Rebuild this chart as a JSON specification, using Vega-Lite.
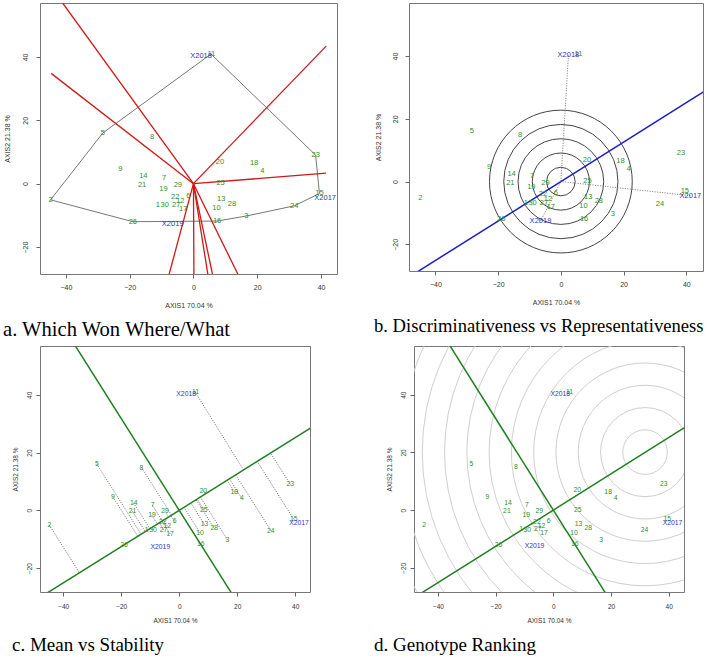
{
  "$schema": "https://vega.github.io/schema/vega-lite/v6.json",
  "padding": {"left": 2, "top": 2, "right": 0, "bottom": 0},
  "background": "white",
  "config": {
    "view": {"stroke": "#777", "strokeWidth": 1},
    "axis": {"grid": false, "domain": false, "tickColor": "#666", "labelColor": "#333", "titleColor": "#333", "labelFont": "Liberation Sans", "titleFont": "Liberation Sans", "titleFontWeight": "normal", "labelFontSize": 7, "titleFontSize": 7, "tickSize": 4},
    "axisY": {"labelAngle": -90, "labelAlign": "center", "labelBaseline": "bottom"},
    "title": {"orient": "bottom", "anchor": "start", "frame": "bounds", "font": "Liberation Serif", "fontSize": 19, "fontWeight": "normal", "color": "black", "offset": 12, "baseline": "top"},
    "text": {"font": "Liberation Sans"}
  },
  "datasets": {
    "geno": [
      {"g": "1", "x": -11.2, "y": -6.7}, {"g": "2", "x": -44.8, "y": -5.1}, {"g": "3", "x": 16.6, "y": -10.2},
      {"g": "4", "x": 21.6, "y": 4.1}, {"g": "5", "x": -28.4, "y": 16.0}, {"g": "6", "x": -1.6, "y": -3.8},
      {"g": "7", "x": -9.2, "y": 1.7}, {"g": "8", "x": -13.0, "y": 14.8}, {"g": "9", "x": -22.9, "y": 4.7},
      {"g": "10", "x": 7.2, "y": -7.8}, {"g": "11", "x": 5.6, "y": 40.8}, {"g": "12", "x": -4.1, "y": -5.5},
      {"g": "13", "x": 8.7, "y": -4.9}, {"g": "14", "x": -15.7, "y": 2.5}, {"g": "15", "x": 39.5, "y": -3.1},
      {"g": "16", "x": 7.4, "y": -11.8}, {"g": "17", "x": -3.2, "y": -8.1}, {"g": "18", "x": 19.0, "y": 6.4},
      {"g": "19", "x": -9.4, "y": -1.8}, {"g": "20", "x": 8.3, "y": 6.8}, {"g": "21", "x": -16.1, "y": -0.4},
      {"g": "22", "x": -5.7, "y": -4.1}, {"g": "23", "x": 38.3, "y": 9.0}, {"g": "24", "x": 31.6, "y": -7.0},
      {"g": "25", "x": 8.5, "y": 0.2}, {"g": "26", "x": -19.0, "y": -12.0}, {"g": "27", "x": -5.4, "y": -6.7},
      {"g": "28", "x": 12.1, "y": -6.3}, {"g": "29", "x": -4.9, "y": -0.4}, {"g": "30", "x": -9.0, "y": -6.8}
    ],
    "env": [
      {"e": "X2017", "x": 41.3, "y": -4.5}, {"e": "X2018", "x": 2.4, "y": 40.2}, {"e": "X2019", "x": -6.5, "y": -12.6}
    ],
    "hull": [
      {"o": 1, "x": 5.5, "y": 40.9}, {"o": 2, "x": 38.3, "y": 9.0}, {"o": 3, "x": 39.5, "y": -3.1},
      {"o": 4, "x": 31.6, "y": -7.0}, {"o": 5, "x": 16.6, "y": -10.2}, {"o": 6, "x": 7.4, "y": -11.8},
      {"o": 7, "x": -19.0, "y": -12.0}, {"o": 8, "x": -44.8, "y": -5.1}, {"o": 9, "x": -28.4, "y": 16.0},
      {"o": 10, "x": 5.5, "y": 40.9}
    ],
    "rays": [
      {"x": -41.0, "y": 57.0}, {"x": -44.6, "y": 34.8}, {"x": 41.6, "y": 43.4}, {"x": 41.6, "y": 3.3},
      {"x": 13.9, "y": -28.5}, {"x": 5.95, "y": -28.5}, {"x": 4.5, "y": -28.5}, {"x": 0.15, "y": -28.5}, {"x": -7.6, "y": -28.5}
    ],
    "proj": [
      {"x": -11.2, "y": -6.7, "x2": -11.05, "y2": -6.95}, {"x": -44.8, "y": -5.1, "x2": -34.4, "y2": -21.64},
      {"x": 16.6, "y": -10.2, "x2": 7.3, "y2": 4.59}, {"x": 21.6, "y": 4.1, "x2": 17.33, "y2": 10.9},
      {"x": -28.4, "y": 16.0, "x2": -13.14, "y2": -8.26}, {"x": -1.6, "y": -3.8, "x2": -2.86, "y2": -1.8},
      {"x": -9.2, "y": 1.7, "x2": -5.83, "y2": -3.66}, {"x": -13.0, "y": 14.8, "x2": -2.65, "y2": -1.66},
      {"x": -22.9, "y": 4.7, "x2": -14.29, "y2": -8.99}, {"x": 7.2, "y": -7.8, "x2": 1.64, "y2": 1.03},
      {"x": 5.6, "y": 40.8, "x2": 22.2, "y2": 13.96}, {"x": -4.1, "y": -5.5, "x2": -5.42, "y2": -3.41},
      {"x": 8.7, "y": -4.9, "x2": 4.03, "y2": 2.53}, {"x": -15.7, "y": 2.5, "x2": -10.12, "y2": -6.37},
      {"x": 39.5, "y": -3.1, "x2": 26.91, "y2": 16.92}, {"x": 7.4, "y": -11.8, "x2": -0.02, "y2": -0.01},
      {"x": -3.2, "y": -8.1, "x2": -5.94, "y2": -3.74}, {"x": 19.0, "y": 6.4, "x2": 16.5, "y2": 10.38},
      {"x": -9.4, "y": -1.8, "x2": -7.55, "y2": -4.75}, {"x": 8.3, "y": 6.8, "x2": 9.01, "y2": 5.67},
      {"x": -16.1, "y": -0.4, "x2": -11.72, "y2": -7.37}, {"x": -5.7, "y": -4.1, "x2": -5.93, "y2": -3.73},
      {"x": 38.3, "y": 9.0, "x2": 31.5, "y2": 19.81}, {"x": 31.6, "y": -7.0, "x2": 19.49, "y2": 12.26},
      {"x": 8.5, "y": 0.2, "x2": 6.18, "y2": 3.89}, {"x": -19.0, "y": -12.0, "x2": -19.02, "y2": -11.96},
      {"x": -5.4, "y": -6.7, "x2": -6.89, "y2": -4.33}, {"x": 12.1, "y": -6.3, "x2": 5.83, "y2": 3.67},
      {"x": -4.9, "y": -0.4, "x2": -3.69, "y2": -2.32}, {"x": -9.0, "y": -6.8, "x2": -9.51, "y2": -5.98}
    ],
    "aea": [{"x": -48.0, "y": -30.19}, {"x": 46.0, "y": 28.93}],
    "ato": [{"x": -37.0, "y": 58.83}, {"x": 19.0, "y": -30.21}],
    "circB": [{"r": 4.55}, {"r": 9.1}, {"r": 13.65}, {"r": 18.2}, {"r": 22.75}],
    "circD": [{"r": 7.1}, {"r": 14.2}, {"r": 21.3}, {"r": 28.4}, {"r": 35.5}, {"r": 42.6}, {"r": 49.7}, {"r": 56.8}, {"r": 63.9}, {"r": 71.0}, {"r": 78.1}, {"r": 85.2}, {"r": 92.3}]
  },
  "columns": 2,
  "align": "none",
  "spacing": {"row": 3, "column": 35},
  "concat": [
    {
      "width": 297, "height": 271,
      "title": {"text": "a. Which Won Where/What", "fontSize": 20.6},
      "layer": [
        {"mark": {"type": "rule", "color": "#999", "strokeDash": [2, 2], "strokeWidth": 1},
         "encoding": {"x": {"datum": 0, "type": "quantitative", "scale": {"domain": [-48.1, 45], "nice": false, "zero": false}, "axis": {"title": "AXIS1 70.04 %", "values": [-40, -20, 0, 20, 40], "labelPadding": 5, "titlePadding": 11}}}},
        {"mark": {"type": "rule", "color": "#999", "strokeDash": [2, 2], "strokeWidth": 1},
         "encoding": {"y": {"datum": 0, "type": "quantitative", "scale": {"domain": [-28.5, 57], "nice": false, "zero": false}, "axis": {"title": "AXIS2 21.38 %", "values": [-20, 0, 20, 40], "labelPadding": 8, "titlePadding": 11}}}},
        {"data": {"name": "hull"}, "mark": {"type": "line", "color": "#777", "strokeWidth": 1},
         "encoding": {"x": {"field": "x", "type": "quantitative", "scale": {"domain": [-48.1, 45], "nice": false, "zero": false}, "axis": {"title": "AXIS1 70.04 %", "values": [-40, -20, 0, 20, 40], "labelPadding": 5, "titlePadding": 11}},
                      "y": {"field": "y", "type": "quantitative", "scale": {"domain": [-28.5, 57], "nice": false, "zero": false}, "axis": {"title": "AXIS2 21.38 %", "values": [-20, 0, 20, 40], "labelPadding": 8, "titlePadding": 11}},
                      "order": {"field": "o"}}},
        {"data": {"name": "rays"}, "mark": {"type": "rule", "color": "#d01818", "strokeWidth": 1.3, "clip": true},
         "encoding": {"x": {"field": "x", "type": "quantitative", "scale": {"domain": [-48.1, 45], "nice": false, "zero": false}, "axis": {"title": "AXIS1 70.04 %", "values": [-40, -20, 0, 20, 40], "labelPadding": 5, "titlePadding": 11}},
                      "y": {"field": "y", "type": "quantitative", "scale": {"domain": [-28.5, 57], "nice": false, "zero": false}, "axis": {"title": "AXIS2 21.38 %", "values": [-20, 0, 20, 40], "labelPadding": 8, "titlePadding": 11}},
                      "x2": {"datum": 0}, "y2": {"datum": 0}}},
        {"data": {"name": "geno"}, "mark": {"type": "text", "color": "#2e8f2e", "fontSize": 7.5, "align": "center", "baseline": "middle"},
         "encoding": {"x": {"field": "x", "type": "quantitative", "scale": {"domain": [-48.1, 45], "nice": false, "zero": false}, "axis": {"title": "AXIS1 70.04 %", "values": [-40, -20, 0, 20, 40], "labelPadding": 5, "titlePadding": 11}},
                      "y": {"field": "y", "type": "quantitative", "scale": {"domain": [-28.5, 57], "nice": false, "zero": false}, "axis": {"title": "AXIS2 21.38 %", "values": [-20, 0, 20, 40], "labelPadding": 8, "titlePadding": 11}},
                      "text": {"field": "g"}}},
        {"data": {"name": "env"}, "mark": {"type": "text", "color": "#3535c0", "fontSize": 7.5, "align": "center", "baseline": "middle"},
         "encoding": {"x": {"field": "x", "type": "quantitative", "scale": {"domain": [-48.1, 45], "nice": false, "zero": false}, "axis": {"title": "AXIS1 70.04 %", "values": [-40, -20, 0, 20, 40], "labelPadding": 5, "titlePadding": 11}},
                      "y": {"field": "y", "type": "quantitative", "scale": {"domain": [-28.5, 57], "nice": false, "zero": false}, "axis": {"title": "AXIS2 21.38 %", "values": [-20, 0, 20, 40], "labelPadding": 8, "titlePadding": 11}},
                      "text": {"field": "e"}}}
      ]
    },
    {
      "width": 294, "height": 268,
      "title": {"text": "b. Discriminativeness vs Representativeness", "fontSize": 18.6},
      "layer": [
        {"mark": {"type": "text", "text": " ", "fontSize": 2, "baseline": "bottom", "dy": -2},
         "encoding": {"x": {"datum": 0, "type": "quantitative", "scale": {"domain": [-48.4, 45.3], "nice": false, "zero": false}, "axis": {"title": "AXIS1 70.04 %", "values": [-40, -20, 0, 20, 40], "labelPadding": 5, "titlePadding": 11}},
                      "y": {"datum": 56.9, "type": "quantitative", "scale": {"domain": [-28.5, 56.9], "nice": false, "zero": false}, "axis": {"title": "AXIS2 21.38 %", "values": [-20, 0, 20, 40], "labelPadding": 7, "titlePadding": 10}}}},
        {"mark": {"type": "rule", "color": "#888", "strokeDash": [2, 2], "strokeWidth": 1},
         "encoding": {"x": {"datum": 0, "type": "quantitative", "scale": {"domain": [-48.4, 45.3], "nice": false, "zero": false}, "axis": {"title": "AXIS1 70.04 %", "values": [-40, -20, 0, 20, 40], "labelPadding": 5, "titlePadding": 11}}}},
        {"mark": {"type": "rule", "color": "#888", "strokeDash": [2, 2], "strokeWidth": 1},
         "encoding": {"y": {"datum": 0, "type": "quantitative", "scale": {"domain": [-28.5, 56.9], "nice": false, "zero": false}, "axis": {"title": "AXIS2 21.38 %", "values": [-20, 0, 20, 40], "labelPadding": 7, "titlePadding": 10}}}},
        {"data": {"name": "circB"}, "mark": {"type": "point", "shape": "circle", "filled": false, "color": "#444", "strokeWidth": 1, "opacity": 1, "clip": true},
         "encoding": {"x": {"datum": 0, "type": "quantitative", "scale": {"domain": [-48.4, 45.3], "nice": false, "zero": false}, "axis": {"title": "AXIS1 70.04 %", "values": [-40, -20, 0, 20, 40], "labelPadding": 5, "titlePadding": 11}},
                      "y": {"datum": 0, "type": "quantitative", "scale": {"domain": [-28.5, 56.9], "nice": false, "zero": false}, "axis": {"title": "AXIS2 21.38 %", "values": [-20, 0, 20, 40], "labelPadding": 7, "titlePadding": 10}},
                      "size": {"field": "r", "type": "quantitative", "scale": {"type": "pow", "exponent": 2, "domain": [0, 100], "range": [0, 393882]}, "legend": null}}},
        {"data": {"name": "env"}, "mark": {"type": "rule", "color": "#777", "strokeDash": [1, 1.5], "strokeWidth": 1},
         "encoding": {"x": {"field": "x", "type": "quantitative", "scale": {"domain": [-48.4, 45.3], "nice": false, "zero": false}, "axis": {"title": "AXIS1 70.04 %", "values": [-40, -20, 0, 20, 40], "labelPadding": 5, "titlePadding": 11}},
                      "y": {"field": "y", "type": "quantitative", "scale": {"domain": [-28.5, 56.9], "nice": false, "zero": false}, "axis": {"title": "AXIS2 21.38 %", "values": [-20, 0, 20, 40], "labelPadding": 7, "titlePadding": 10}},
                      "x2": {"datum": 0}, "y2": {"datum": 0}}},
        {"data": {"name": "aea"}, "mark": {"type": "rule", "color": "#1c1cc8", "strokeWidth": 1.5, "clip": true},
         "encoding": {"x": {"field": "x", "type": "quantitative", "scale": {"domain": [-48.4, 45.3], "nice": false, "zero": false}, "axis": {"title": "AXIS1 70.04 %", "values": [-40, -20, 0, 20, 40], "labelPadding": 5, "titlePadding": 11}},
                      "y": {"field": "y", "type": "quantitative", "scale": {"domain": [-28.5, 56.9], "nice": false, "zero": false}, "axis": {"title": "AXIS2 21.38 %", "values": [-20, 0, 20, 40], "labelPadding": 7, "titlePadding": 10}},
                      "x2": {"datum": 0}, "y2": {"datum": 0}}},
        {"mark": {"type": "point", "shape": "arrow", "angle": 58, "size": 25, "filled": true, "color": "#2e8f2e", "opacity": 1},
         "encoding": {"x": {"datum": 11.8, "type": "quantitative", "scale": {"domain": [-48.4, 45.3], "nice": false, "zero": false}, "axis": {"title": "AXIS1 70.04 %", "values": [-40, -20, 0, 20, 40], "labelPadding": 5, "titlePadding": 11}},
                      "y": {"datum": 7.4, "type": "quantitative", "scale": {"domain": [-28.5, 56.9], "nice": false, "zero": false}, "axis": {"title": "AXIS2 21.38 %", "values": [-20, 0, 20, 40], "labelPadding": 7, "titlePadding": 10}}}},
        {"data": {"name": "geno"}, "mark": {"type": "text", "color": "#2e8f2e", "fontSize": 7.5, "align": "center", "baseline": "middle"},
         "encoding": {"x": {"field": "x", "type": "quantitative", "scale": {"domain": [-48.4, 45.3], "nice": false, "zero": false}, "axis": {"title": "AXIS1 70.04 %", "values": [-40, -20, 0, 20, 40], "labelPadding": 5, "titlePadding": 11}},
                      "y": {"field": "y", "type": "quantitative", "scale": {"domain": [-28.5, 56.9], "nice": false, "zero": false}, "axis": {"title": "AXIS2 21.38 %", "values": [-20, 0, 20, 40], "labelPadding": 7, "titlePadding": 10}},
                      "text": {"field": "g"}}},
        {"data": {"name": "env"}, "mark": {"type": "text", "color": "#3535c0", "fontSize": 7.5, "align": "center", "baseline": "middle"},
         "encoding": {"x": {"field": "x", "type": "quantitative", "scale": {"domain": [-48.4, 45.3], "nice": false, "zero": false}, "axis": {"title": "AXIS1 70.04 %", "values": [-40, -20, 0, 20, 40], "labelPadding": 5, "titlePadding": 11}},
                      "y": {"field": "y", "type": "quantitative", "scale": {"domain": [-28.5, 56.9], "nice": false, "zero": false}, "axis": {"title": "AXIS2 21.38 %", "values": [-20, 0, 20, 40], "labelPadding": 7, "titlePadding": 10}},
                      "text": {"field": "e"}}}
      ]
    },
    {
      "width": 270, "height": 246,
      "title": {"text": "c. Mean vs Stability"},
      "layer": [
        {"mark": {"type": "rule", "color": "#999", "strokeDash": [2, 2], "strokeWidth": 1},
         "encoding": {"x": {"datum": 0, "type": "quantitative", "scale": {"domain": [-48.0, 45.1], "nice": false, "zero": false}, "axis": {"title": "AXIS1 70.04 %", "values": [-40, -20, 0, 20, 40], "labelFontSize": 6.5, "titleFontSize": 6.5, "labelPadding": 7, "titlePadding": 8}}}},
        {"mark": {"type": "rule", "color": "#999", "strokeDash": [2, 2], "strokeWidth": 1},
         "encoding": {"y": {"datum": 0, "type": "quantitative", "scale": {"domain": [-28.3, 56.9], "nice": false, "zero": false}, "axis": {"title": "AXIS2 21.38 %", "values": [-20, 0, 20, 40], "labelFontSize": 6.5, "titleFontSize": 6.5, "labelPadding": 4, "titlePadding": 8}}}},
        {"data": {"name": "proj"}, "mark": {"type": "rule", "color": "#666", "strokeDash": [1, 1.5], "strokeWidth": 1},
         "encoding": {"x": {"field": "x", "type": "quantitative", "scale": {"domain": [-48.0, 45.1], "nice": false, "zero": false}, "axis": {"title": "AXIS1 70.04 %", "values": [-40, -20, 0, 20, 40], "labelFontSize": 6.5, "titleFontSize": 6.5, "labelPadding": 7, "titlePadding": 8}},
                      "y": {"field": "y", "type": "quantitative", "scale": {"domain": [-28.3, 56.9], "nice": false, "zero": false}, "axis": {"title": "AXIS2 21.38 %", "values": [-20, 0, 20, 40], "labelFontSize": 6.5, "titleFontSize": 6.5, "labelPadding": 4, "titlePadding": 8}},
                      "x2": {"field": "x2"}, "y2": {"field": "y2"}}},
        {"data": {"name": "aea"}, "mark": {"type": "rule", "color": "#1f7f1f", "strokeWidth": 1.5, "clip": true},
         "encoding": {"x": {"field": "x", "type": "quantitative", "scale": {"domain": [-48.0, 45.1], "nice": false, "zero": false}, "axis": {"title": "AXIS1 70.04 %", "values": [-40, -20, 0, 20, 40], "labelFontSize": 6.5, "titleFontSize": 6.5, "labelPadding": 7, "titlePadding": 8}},
                      "y": {"field": "y", "type": "quantitative", "scale": {"domain": [-28.3, 56.9], "nice": false, "zero": false}, "axis": {"title": "AXIS2 21.38 %", "values": [-20, 0, 20, 40], "labelFontSize": 6.5, "titleFontSize": 6.5, "labelPadding": 4, "titlePadding": 8}},
                      "x2": {"datum": 0}, "y2": {"datum": 0}}},
        {"data": {"name": "ato"}, "mark": {"type": "rule", "color": "#1f7f1f", "strokeWidth": 1.5, "clip": true},
         "encoding": {"x": {"field": "x", "type": "quantitative", "scale": {"domain": [-48.0, 45.1], "nice": false, "zero": false}, "axis": {"title": "AXIS1 70.04 %", "values": [-40, -20, 0, 20, 40], "labelFontSize": 6.5, "titleFontSize": 6.5, "labelPadding": 7, "titlePadding": 8}},
                      "y": {"field": "y", "type": "quantitative", "scale": {"domain": [-28.3, 56.9], "nice": false, "zero": false}, "axis": {"title": "AXIS2 21.38 %", "values": [-20, 0, 20, 40], "labelFontSize": 6.5, "titleFontSize": 6.5, "labelPadding": 4, "titlePadding": 8}},
                      "x2": {"datum": 0}, "y2": {"datum": 0}}},
        {"mark": {"type": "point", "shape": "arrow", "angle": 58, "size": 22, "filled": true, "color": "#2e8f2e", "opacity": 1},
         "encoding": {"x": {"datum": 12.0, "type": "quantitative", "scale": {"domain": [-48.0, 45.1], "nice": false, "zero": false}, "axis": {"title": "AXIS1 70.04 %", "values": [-40, -20, 0, 20, 40], "labelFontSize": 6.5, "titleFontSize": 6.5, "labelPadding": 7, "titlePadding": 8}},
                      "y": {"datum": 7.5, "type": "quantitative", "scale": {"domain": [-28.3, 56.9], "nice": false, "zero": false}, "axis": {"title": "AXIS2 21.38 %", "values": [-20, 0, 20, 40], "labelFontSize": 6.5, "titleFontSize": 6.5, "labelPadding": 4, "titlePadding": 8}}}},
        {"data": {"name": "geno"}, "mark": {"type": "text", "color": "#2e8f2e", "fontSize": 6.8, "align": "center", "baseline": "middle"},
         "encoding": {"x": {"field": "x", "type": "quantitative", "scale": {"domain": [-48.0, 45.1], "nice": false, "zero": false}, "axis": {"title": "AXIS1 70.04 %", "values": [-40, -20, 0, 20, 40], "labelFontSize": 6.5, "titleFontSize": 6.5, "labelPadding": 7, "titlePadding": 8}},
                      "y": {"field": "y", "type": "quantitative", "scale": {"domain": [-28.3, 56.9], "nice": false, "zero": false}, "axis": {"title": "AXIS2 21.38 %", "values": [-20, 0, 20, 40], "labelFontSize": 6.5, "titleFontSize": 6.5, "labelPadding": 4, "titlePadding": 8}},
                      "text": {"field": "g"}}},
        {"data": {"name": "env"}, "mark": {"type": "text", "color": "#3535c0", "fontSize": 6.8, "align": "center", "baseline": "middle"},
         "encoding": {"x": {"field": "x", "type": "quantitative", "scale": {"domain": [-48.0, 45.1], "nice": false, "zero": false}, "axis": {"title": "AXIS1 70.04 %", "values": [-40, -20, 0, 20, 40], "labelFontSize": 6.5, "titleFontSize": 6.5, "labelPadding": 7, "titlePadding": 8}},
                      "y": {"field": "y", "type": "quantitative", "scale": {"domain": [-28.3, 56.9], "nice": false, "zero": false}, "axis": {"title": "AXIS2 21.38 %", "values": [-20, 0, 20, 40], "labelFontSize": 6.5, "titleFontSize": 6.5, "labelPadding": 4, "titlePadding": 8}},
                      "text": {"field": "e"}}}
      ]
    },
    {
      "width": 270, "height": 246,
      "title": {"text": "d. Genotype Ranking", "dx": -12},
      "layer": [
        {"mark": {"type": "text", "text": " ", "fontSize": 2, "align": "right", "baseline": "middle", "dx": -64.5},
         "encoding": {"x": {"datum": -48.3, "type": "quantitative", "scale": {"domain": [-48.3, 45.3], "nice": false, "zero": false}, "axis": {"title": "AXIS1 70.04 %", "values": [-40, -20, 0, 20, 40], "labelFontSize": 6.5, "titleFontSize": 6.5, "labelPadding": 7, "titlePadding": 8}},
                      "y": {"datum": 0, "type": "quantitative", "scale": {"domain": [-28.4, 56.9], "nice": false, "zero": false}, "axis": {"title": "AXIS2 21.38 %", "values": [-20, 0, 20, 40], "labelFontSize": 6.5, "titleFontSize": 6.5, "labelPadding": 4, "titlePadding": 8}}}},
        {"mark": {"type": "rule", "color": "#999", "strokeDash": [2, 2], "strokeWidth": 1},
         "encoding": {"x": {"datum": 0, "type": "quantitative", "scale": {"domain": [-48.3, 45.3], "nice": false, "zero": false}, "axis": {"title": "AXIS1 70.04 %", "values": [-40, -20, 0, 20, 40], "labelFontSize": 6.5, "titleFontSize": 6.5, "labelPadding": 7, "titlePadding": 8}}}},
        {"mark": {"type": "rule", "color": "#999", "strokeDash": [2, 2], "strokeWidth": 1},
         "encoding": {"y": {"datum": 0, "type": "quantitative", "scale": {"domain": [-28.4, 56.9], "nice": false, "zero": false}, "axis": {"title": "AXIS2 21.38 %", "values": [-20, 0, 20, 40], "labelFontSize": 6.5, "titleFontSize": 6.5, "labelPadding": 4, "titlePadding": 8}}}},
        {"data": {"name": "circD"}, "mark": {"type": "point", "shape": "circle", "filled": false, "color": "#cfcfcf", "strokeWidth": 1, "opacity": 1, "clip": true},
         "encoding": {"x": {"datum": 31.8, "type": "quantitative", "scale": {"domain": [-48.3, 45.3], "nice": false, "zero": false}, "axis": {"title": "AXIS1 70.04 %", "values": [-40, -20, 0, 20, 40], "labelFontSize": 6.5, "titleFontSize": 6.5, "labelPadding": 7, "titlePadding": 8}},
                      "y": {"datum": 20.1, "type": "quantitative", "scale": {"domain": [-28.4, 56.9], "nice": false, "zero": false}, "axis": {"title": "AXIS2 21.38 %", "values": [-20, 0, 20, 40], "labelFontSize": 6.5, "titleFontSize": 6.5, "labelPadding": 4, "titlePadding": 8}},
                      "size": {"field": "r", "type": "quantitative", "scale": {"type": "pow", "exponent": 2, "domain": [0, 100], "range": [0, 332698]}, "legend": null}}},
        {"data": {"name": "aea"}, "mark": {"type": "rule", "color": "#1f7f1f", "strokeWidth": 1.5, "clip": true},
         "encoding": {"x": {"field": "x", "type": "quantitative", "scale": {"domain": [-48.3, 45.3], "nice": false, "zero": false}, "axis": {"title": "AXIS1 70.04 %", "values": [-40, -20, 0, 20, 40], "labelFontSize": 6.5, "titleFontSize": 6.5, "labelPadding": 7, "titlePadding": 8}},
                      "y": {"field": "y", "type": "quantitative", "scale": {"domain": [-28.4, 56.9], "nice": false, "zero": false}, "axis": {"title": "AXIS2 21.38 %", "values": [-20, 0, 20, 40], "labelFontSize": 6.5, "titleFontSize": 6.5, "labelPadding": 4, "titlePadding": 8}},
                      "x2": {"datum": 0}, "y2": {"datum": 0}}},
        {"data": {"name": "ato"}, "mark": {"type": "rule", "color": "#1f7f1f", "strokeWidth": 1.5, "clip": true},
         "encoding": {"x": {"field": "x", "type": "quantitative", "scale": {"domain": [-48.3, 45.3], "nice": false, "zero": false}, "axis": {"title": "AXIS1 70.04 %", "values": [-40, -20, 0, 20, 40], "labelFontSize": 6.5, "titleFontSize": 6.5, "labelPadding": 7, "titlePadding": 8}},
                      "y": {"field": "y", "type": "quantitative", "scale": {"domain": [-28.4, 56.9], "nice": false, "zero": false}, "axis": {"title": "AXIS2 21.38 %", "values": [-20, 0, 20, 40], "labelFontSize": 6.5, "titleFontSize": 6.5, "labelPadding": 4, "titlePadding": 8}},
                      "x2": {"datum": 0}, "y2": {"datum": 0}}},
        {"mark": {"type": "point", "shape": "arrow", "angle": 58, "size": 22, "filled": true, "color": "#2e8f2e", "opacity": 1},
         "encoding": {"x": {"datum": 31.3, "type": "quantitative", "scale": {"domain": [-48.3, 45.3], "nice": false, "zero": false}, "axis": {"title": "AXIS1 70.04 %", "values": [-40, -20, 0, 20, 40], "labelFontSize": 6.5, "titleFontSize": 6.5, "labelPadding": 7, "titlePadding": 8}},
                      "y": {"datum": 19.7, "type": "quantitative", "scale": {"domain": [-28.4, 56.9], "nice": false, "zero": false}, "axis": {"title": "AXIS2 21.38 %", "values": [-20, 0, 20, 40], "labelFontSize": 6.5, "titleFontSize": 6.5, "labelPadding": 4, "titlePadding": 8}}}},
        {"data": {"name": "geno"}, "mark": {"type": "text", "color": "#2e8f2e", "fontSize": 6.8, "align": "center", "baseline": "middle"},
         "encoding": {"x": {"field": "x", "type": "quantitative", "scale": {"domain": [-48.3, 45.3], "nice": false, "zero": false}, "axis": {"title": "AXIS1 70.04 %", "values": [-40, -20, 0, 20, 40], "labelFontSize": 6.5, "titleFontSize": 6.5, "labelPadding": 7, "titlePadding": 8}},
                      "y": {"field": "y", "type": "quantitative", "scale": {"domain": [-28.4, 56.9], "nice": false, "zero": false}, "axis": {"title": "AXIS2 21.38 %", "values": [-20, 0, 20, 40], "labelFontSize": 6.5, "titleFontSize": 6.5, "labelPadding": 4, "titlePadding": 8}},
                      "text": {"field": "g"}}},
        {"data": {"name": "env"}, "mark": {"type": "text", "color": "#3535c0", "fontSize": 6.8, "align": "center", "baseline": "middle"},
         "encoding": {"x": {"field": "x", "type": "quantitative", "scale": {"domain": [-48.3, 45.3], "nice": false, "zero": false}, "axis": {"title": "AXIS1 70.04 %", "values": [-40, -20, 0, 20, 40], "labelFontSize": 6.5, "titleFontSize": 6.5, "labelPadding": 7, "titlePadding": 8}},
                      "y": {"field": "y", "type": "quantitative", "scale": {"domain": [-28.4, 56.9], "nice": false, "zero": false}, "axis": {"title": "AXIS2 21.38 %", "values": [-20, 0, 20, 40], "labelFontSize": 6.5, "titleFontSize": 6.5, "labelPadding": 4, "titlePadding": 8}},
                      "text": {"field": "e"}}}
      ]
    }
  ]
}
